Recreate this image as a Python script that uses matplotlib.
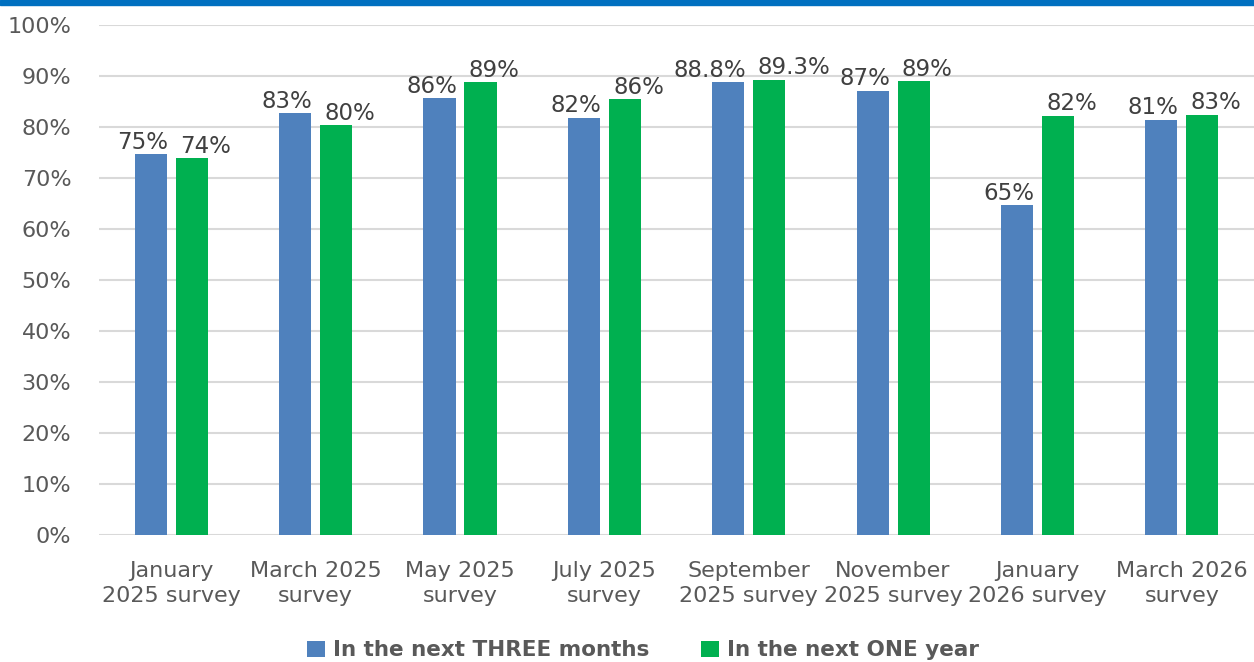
import numpy as np
import matplotlib.pyplot as plt
from matplotlib.patches import Rectangle

plt.rcParams['font.family'] = ['DejaVu Sans']

categories = ['January\n2025 survey', 'March 2025\nsurvey', 'May 2025\nsurvey', 'July 2025\nsurvey',
              'September\n2025 survey', 'November\n2025 survey', 'January\n2026 survey', 'March 2026\nsurvey']
three_months = [74.7, 82.7, 85.7, 81.8, 88.8, 87.1, 64.7, 81.4]
one_year = [73.9, 80.4, 88.8, 85.5, 89.3, 89.0, 82.2, 82.4]
three_labels = ['75%', '83%', '86%', '82%', '88.8%', '87%', '65%', '81%']
one_labels = ['74%', '80%', '89%', '86%', '89.3%', '89%', '82%', '83%']
yticks = [0, 10, 20, 30, 40, 50, 60, 70, 80, 90, 100]

blue = '#4F81BD'
green = '#00B050'
grey = '#595959'

fig = plt.figure(figsize=(12.54, 6.62), dpi=100)
ax = fig.add_axes([0.079, 0.192, 0.921, 0.77])

x = np.arange(len(categories))
w = 0.222
off = 0.142
b1 = ax.bar(x - off, three_months, w, color=blue, label='In the next THREE months', zorder=3)
b2 = ax.bar(x + off, one_year, w, color=green, label='In the next ONE year', zorder=3)

# labels pushed outwards so the pairs don't collide
for rect, lab in zip(b1, three_labels):
    ax.text(rect.get_x() + rect.get_width() + 0.01, rect.get_height() + 0.1, lab,
            ha='right', va='bottom', fontsize=16.5, color='#404040')
for rect, lab in zip(b2, one_labels):
    ax.text(rect.get_x() + 0.03, rect.get_height() + 0.1, lab,
            ha='left', va='bottom', fontsize=16.5, color='#404040')

ax.set_xlim(-0.5, len(categories) - 0.5)
ax.set_ylim(0, 100)
ax.set_yticks(yticks)
ax.set_yticklabels([f'{t}%' for t in yticks], fontsize=16, color=grey)
ax.set_xticks(x)
ax.set_xticklabels(categories, fontsize=16, color=grey, linespacing=1.3)
ax.tick_params(length=0)
ax.tick_params(axis='x', pad=19)
ax.tick_params(axis='y', pad=20)
ax.yaxis.grid(True, color='#D9D9D9', linewidth=1.5, zorder=0)
ax.set_axisbelow(True)
for s in ax.spines.values():
    s.set_visible(False)

leg = fig.legend(loc='lower center', bbox_to_anchor=(0.513, -0.027), ncol=2, frameon=False,
                 prop={'size': 15.5, 'weight': 'bold'}, handlelength=0.8, handleheight=0.8,
                 handletextpad=0.4, columnspacing=2.4)
for t in leg.get_texts():
    t.set_color(grey)

# blue band across the top
fig.patches.append(Rectangle((0, 1 - 5 / 662), 1, 5 / 662, transform=fig.transFigure,
                             color='#0070C0', zorder=5))

fig.savefig('out.png', dpi=100)
